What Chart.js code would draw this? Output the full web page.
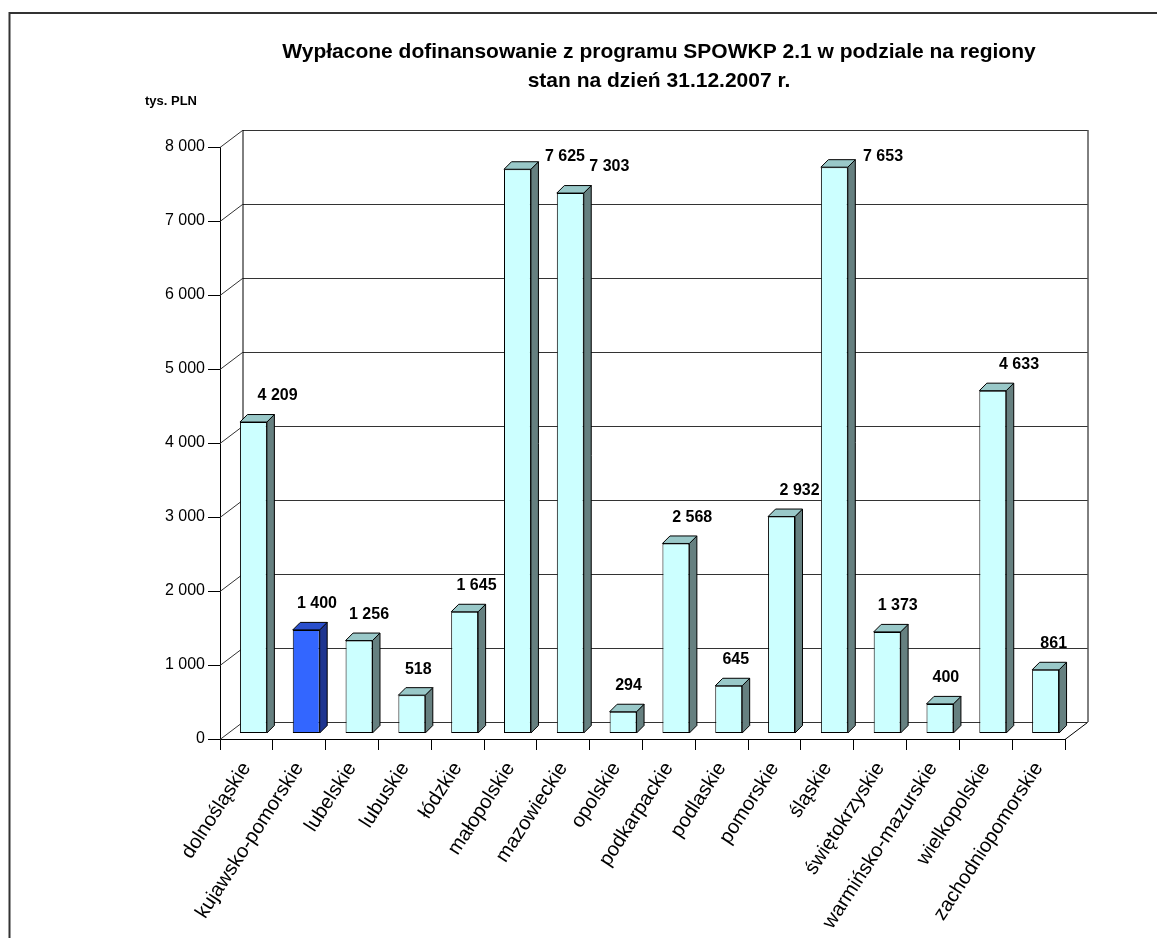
<!DOCTYPE html>
<html>
<head>
<meta charset="utf-8">
<script src="https://cdn.jsdelivr.net/npm/chart.js@4/dist/chart.umd.min.js"></script>
<style>
  body { margin: 0; background: #fff; }
  canvas { display: block; }
</style>
</head>
<body>
<canvas id="regionChart" width="1157" height="938"></canvas>
<script>
const titleLines = [
  "Wypłacone dofinansowanie z programu SPOWKP 2.1 w podziale na regiony",
  "stan na dzień 31.12.2007 r.",
];
const unitLabel = "tys. PLN";
const regions = [
  "dolnośląskie", "kujawsko-pomorskie", "lubelskie", "lubuskie", "łódzkie",
  "małopolskie", "mazowieckie", "opolskie", "podkarpackie", "podlaskie",
  "pomorskie", "śląskie", "świętokrzyskie", "warmińsko-mazurskie",
  "wielkopolskie", "zachodniopomorskie",
];
const paidOut = [4209, 1400, 1256, 518, 1645, 7625, 7303, 294, 2568, 645, 2932, 7653, 1373, 400, 4633, 861];
const yTicks = [0, 1000, 2000, 3000, 4000, 5000, 6000, 7000, 8000];
const highlighted = "kujawsko-pomorskie";

const FONT = "'Liberation Sans', Arial, sans-serif";
const WALL = { x: 22.5, y: -17 };      // depth of the back wall
const SHIFT = { x: 7, y: -5.5 };       // where bar fronts sit on the floor
const BAR_D = { x: 7.5, y: -7.5 };     // depth of each bar

const highlightIndex = regions.indexOf(highlighted);
const faceColor = (i) => (i === highlightIndex ? "#3366ff" : "#ccffff");
const topColor = (i) => (i === highlightIndex ? "#2a4fcc" : "#99c8c8");
const sideColor = (i) => (i === highlightIndex ? "#1e3590" : "#668080");

const fmt = (v) => String(v).replace(/\B(?=(\d{3})+(?!\d))/g, " ");

function poly(ctx, pts, fill) {
  ctx.beginPath();
  ctx.moveTo(pts[0][0], pts[0][1]);
  for (let i = 1; i < pts.length; i++) ctx.lineTo(pts[i][0], pts[i][1]);
  ctx.closePath();
  ctx.fillStyle = fill;
  ctx.fill();
  ctx.stroke();
}

const threeD = {
  id: "threeD",
  beforeDatasetsDraw(chart) {
    const { ctx, chartArea: a, scales } = chart;
    const y = scales.y;
    ctx.save();
    ctx.lineWidth = 1;
    // gridlines on side and back wall
    ctx.strokeStyle = "#333";
    yTicks.forEach((v) => {
      const py = Math.round(y.getPixelForValue(v)) + 0.5;
      ctx.beginPath();
      ctx.moveTo(a.left, py);
      ctx.lineTo(a.left + WALL.x, py + WALL.y);
      ctx.lineTo(a.right + WALL.x, py + WALL.y);
      ctx.stroke();
    });
    ctx.strokeStyle = "#000";
    ctx.beginPath();
    ctx.moveTo(a.left + WALL.x + 0.5, a.top + WALL.y);
    ctx.lineTo(a.left + WALL.x + 0.5, a.bottom + WALL.y);
    ctx.moveTo(a.right + WALL.x + 0.5, a.top + WALL.y);
    ctx.lineTo(a.right + WALL.x + 0.5, a.bottom + WALL.y);
    ctx.moveTo(a.right, a.bottom + 0.5);
    ctx.lineTo(a.right + WALL.x, a.bottom + WALL.y + 0.5);
    ctx.stroke();
    ctx.restore();

    ctx.save();
    ctx.translate(SHIFT.x, SHIFT.y);
  },
  afterDatasetsDraw(chart) {
    const { ctx, chartArea: a } = chart;
    ctx.restore();
    const meta = chart.getDatasetMeta(0);
    ctx.save();
    ctx.lineWidth = 1;
    ctx.strokeStyle = "#000";
    ctx.lineJoin = "round";
    meta.data.forEach((bar, i) => {
      const p = bar.getProps(["x", "y", "base", "width"], true);
      const l = p.x - p.width / 2 + SHIFT.x;
      const r = p.x + p.width / 2 + SHIFT.x;
      const t = p.y + SHIFT.y;
      const b = p.base + SHIFT.y;
      poly(ctx, [[r, t], [r + BAR_D.x, t + BAR_D.y], [r + BAR_D.x, b + BAR_D.y], [r, b]], sideColor(i));
      poly(ctx, [[l, t], [l + BAR_D.x, t + BAR_D.y], [r + BAR_D.x, t + BAR_D.y], [r, t]], topColor(i));
    });
    // value labels, kept inside the plot area like the original
    ctx.fillStyle = "#000";
    ctx.font = "bold 16px " + FONT;
    ctx.textAlign = "center";
    ctx.textBaseline = "middle";
    meta.data.forEach((bar, i) => {
      const p = bar.getProps(["x", "y", "base"], true);
      const h = p.base - p.y;
      const want = p.y + SHIFT.y - 26;
      const ly = Math.max(want, a.top + 10);
      const lx = p.x + SHIFT.x + 4 + 0.065 * h + (ly - want) * 0.5;
      ctx.fillText(fmt(paidOut[i]), lx, ly);
    });
    ctx.restore();
  },
  afterDraw(chart) {
    const { ctx } = chart;
    ctx.save();
    // outer frame (top and left edges)
    ctx.strokeStyle = "#333";
    ctx.lineWidth = 2;
    ctx.beginPath();
    ctx.moveTo(chart.width, 13);
    ctx.lineTo(9.5, 13);
    ctx.lineTo(9.5, chart.height);
    ctx.stroke();

    ctx.fillStyle = "#000";
    ctx.textAlign = "center";
    ctx.textBaseline = "middle";
    ctx.font = "bold 21px " + FONT;
    ctx.fillText(titleLines[0], 659, 52);
    ctx.fillText(titleLines[1], 659, 81);
    ctx.textAlign = "left";
    ctx.font = "bold 13px " + FONT;
    ctx.fillText(unitLabel, 145, 101);
    ctx.restore();
  },
};

new Chart(document.getElementById("regionChart"), {
  type: "bar",
  data: {
    labels: regions,
    datasets: [
      {
        label: unitLabel,
        data: paidOut,
        backgroundColor: (c) => faceColor(c.dataIndex),
        borderColor: "#000",
        borderWidth: 1,
        borderSkipped: false,
        categoryPercentage: 1,
        barPercentage: 0.51,
      },
    ],
  },
  options: {
    responsive: false,
    animation: false,
    layout: { padding: { top: 147, right: 92, left: 0, bottom: 0 } },
    plugins: {
      legend: { display: false },
      title: { display: false },
      tooltip: { enabled: false },
    },
    scales: {
      x: {
        grid: {
          offset: true,
          drawOnChartArea: false,
          drawTicks: true,
          tickLength: 11,
          color: "#000",
        },
        border: { display: true, color: "#000", width: 1 },
        ticks: {
          autoSkip: false,
          minRotation: 57,
          maxRotation: 57,
          padding: 8,
          color: "#000",
          font: { family: FONT, size: 20 },
        },
        afterFit: (s) => { s.height = 199; },
      },
      y: {
        min: 0,
        max: 8000,
        afterBuildTicks: (s) => { s.ticks = yTicks.map((v) => ({ value: v })); },
        grid: {
          drawOnChartArea: false,
          drawTicks: true,
          tickLength: 12,
          color: "#000",
        },
        border: { display: true, color: "#000", width: 1 },
        ticks: {
          padding: 3,
          color: "#000",
          font: { family: FONT, size: 16 },
          callback: (v) => fmt(v),
        },
        afterFit: (s) => { s.width = 220; },
      },
    },
  },
  plugins: [threeD],
});
</script>
</body>
</html>
